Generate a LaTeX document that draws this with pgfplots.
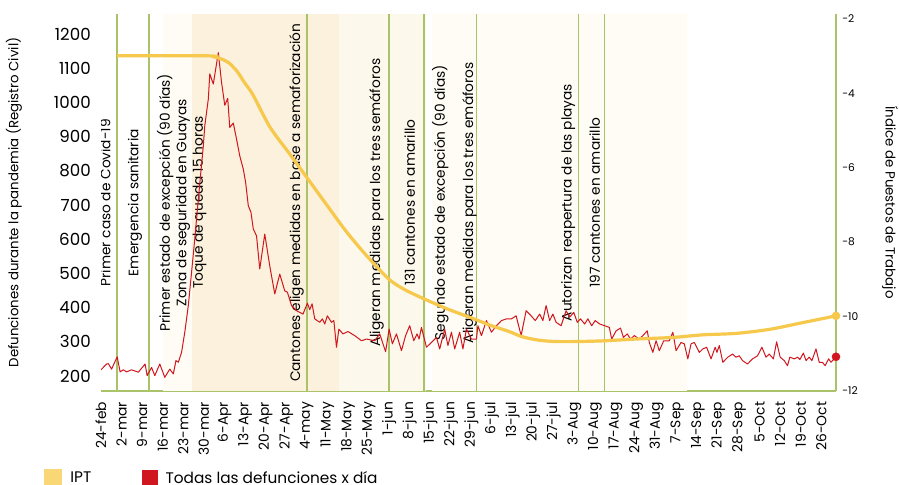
\documentclass[border=0pt]{standalone}
\usepackage{fontspec}
\setmainfont{Poppins}
\usepackage{pgfplots}
\pgfplotsset{compat=1.18}
\definecolor{redl}{RGB}{208,22,30}
\definecolor{ipt}{RGB}{246,200,76}
\definecolor{iptleg}{RGB}{249,214,118}
\definecolor{grn}{RGB}{170,194,104}
\definecolor{shA}{RGB}{254,252,245}
\definecolor{shB}{RGB}{253,248,236}
\definecolor{shC}{RGB}{252,241,220}
\newcommand{\annf}{\fontsize{10.3}{12.4}\selectfont}
\pgfplotstableread{
d v
0 218
1.9 235
2.5 236
3.6 220
5.5 256
6.5 212
7.6 218
8.7 212
10.4 218
12.7 211
15.0 235
15.7 201
17.2 225
18.3 201
20.0 235
21.7 196
23.4 220
24.6 206
25.5 245
26.3 240
27.4 269
28.5 328
29.7 406
30.8 503
31.9 601
33.1 717
34.8 873
35.3 932
36.5 1010
37.0 1084
38.2 1054
39.9 1146
41.0 1059
42.1 992
43.1 1012
43.8 927
45.0 940
46.1 893
47.2 844
48.4 805
49.2 766
50.1 698
51.0 679
51.8 630
52.9 610
54.0 513
55.7 615
57.4 522
59.1 440
60.8 498
62.5 449
63.4 445
64.8 406
66.5 391
68.7 381
70.2 413
71.0 394
71.8 411
72.7 367
74.4 357
75.3 367
76.1 352
77.0 376
78.4 357
79.2 362
80.1 284
80.9 337
82.3 323
84.0 330
86.3 318
88.6 303
90.3 308
93.1 303
94.8 323
96.8 271
98.0 337
99.1 294
100.5 323
102.2 274
103.6 318
105.0 347
106.4 303
107.5 323
108.2 308
109.0 342
110.7 284
112.4 298
114.1 313
115.2 279
116.9 337
118.0 289
119.2 328
120.3 279
122.0 328
123.1 279
124.3 337
126.0 308
127.7 308
128.2 347
129.4 318
131.1 362
132.8 328
134.5 347
136.2 362
137.9 367
139.6 367
141.2 376
142.9 318
144.6 391
146.3 376
147.7 362
149.2 381
150.3 362
151.4 406
152.6 362
153.7 381
154.8 357
156.5 347
158.2 391
159.4 372
160.8 386
162.0 357
163.1 367
164.5 352
165.6 367
166.9 347
168.1 362
169.6 352
171.3 347
172.9 342
173.7 308
175.2 332
176.7 340
177.7 313
179.0 323
180.1 308
181.4 318
183.1 308
184.3 318
185.8 332
186.5 298
187.7 269
188.8 303
189.9 274
191.4 303
193.3 303
194.5 328
195.6 274
197.3 298
198.4 294
199.6 250
200.7 294
201.8 298
203.5 269
204.7 279
206.0 284
207.5 250
208.9 284
209.5 269
210.3 289
211.5 240
213.2 255
214.8 264
216.0 255
217.1 259
218.2 245
219.9 235
221.6 250
223.3 259
224.8 284
226.2 255
227.3 264
228.7 250
229.8 300
231.0 255
232.4 245
233.5 230
234.3 255
235.8 250
236.9 255
237.7 248
238.9 267
239.8 245
240.9 255
241.8 245
243.2 279
244.3 240
245.4 240
246.3 230
247.5 250
248.3 240
250 256
}\deaths
\pgfplotstableread{
d v
5.5 -2.99
35.4 -2.99
38.1 -3.01
40.8 -3.07
43.5 -3.18
46.2 -3.40
48.9 -3.72
51.7 -4.04
57.5 -4.91
64.3 -5.64
71.1 -6.38
77.9 -7.12
83.0 -7.67
88.1 -8.16
93.2 -8.61
98.3 -9.02
103.4 -9.28
109.5 -9.51
118.0 -9.80
126.5 -10.05
132.3 -10.23
139.1 -10.41
143.2 -10.54
148.6 -10.63
154.4 -10.67
162.2 -10.67
171.4 -10.65
182.7 -10.60
194.6 -10.56
204.8 -10.49
216.3 -10.45
227.6 -10.34
238.8 -10.16
250 -9.98
}\ipt
\begin{document}
\begin{tikzpicture}[x=1pt,y=1pt]
\path[use as bounding box] (0,0) rectangle (674.25,363.75);
\begin{axis}[
  at={(75.75pt,70.5pt)}, anchor=south west,
  width=551.25pt, height=282.75pt, scale only axis,
  xmin=0, xmax=250, ymin=156, ymax=1259,
  axis x line*=bottom, axis y line*=left,
  x axis line style={grn, line width=1.1pt, -},
  y axis line style={draw=none},
  major tick length=0pt,
  xtick={0,7,...,245},
  xticklabels={24-feb,2-mar,9-mar,16-mar,23-mar,30-mar,6-Apr,13-Apr,20-Apr,27-Apr,4-may,11-May,18-May,25-May,1-jun,8-jun,15-jun,22-jun,29-jun,6-jul,13-jul,20-jul,27-jul,3-Aug,10-Aug,17-Aug,24-Aug,31-Aug,7-Sep,14-Sep,21-Sep,28-Sep,5-Oct,12-Oct,19-Oct,26-Oct},
  xticklabel style={rotate=90, anchor=east, inner sep=0pt, font=\fontsize{10.4}{12}\selectfont},
  xticklabel shift=8pt,
  ytick={200,300,...,1200},
  yticklabels={200,300,400,500,600,700,800,900,1000,1100,1200},
  yticklabel style={anchor=east, inner sep=0pt, font=\fontsize{12.5}{14}\selectfont},
  yticklabel shift=7.5pt,
  ylabel={Defunciones durante la pandemia (Registro Civil)},
  ylabel style={at={(rel axis cs:-0.1184,0.5)}, anchor=center, inner sep=0pt, font=\fontsize{10}{12}\selectfont},
]
\addplot[fill=shA, draw=none, forget plot] coordinates {(21,1259) (110.5,1259)} \closedcycle;
\addplot[fill=shA, draw=none, forget plot] coordinates {(112.5,1259) (199.4,1259)} \closedcycle;
\addplot[fill=shB, draw=none, forget plot] coordinates {(31,1259) (110.5,1259)} \closedcycle;
\addplot[fill=shC, draw=none, forget plot] coordinates {(31,1259) (81,1259)} \closedcycle;
\foreach \xv in {5.5,16.3,70.0,97.9,109.8,127.8,162.4,171.3}{
  \edef\tmp{\noexpand\addplot[grn, line width=1.1pt, forget plot] coordinates {(\xv,156) (\xv,1259)};}
  \tmp
}
\node[rotate=90, anchor=base, inner sep=0pt, font=\annf] at (axis cs:3.23,707) {Primer caso de Covid-19};
\node[rotate=90, anchor=base, inner sep=0pt, font=\annf] at (axis cs:12.69,707) {Emergencia sanitaria};
\node[rotate=90, anchor=south, inner sep=0pt, align=center, font=\annf] at (axis cs:35.95,707) {Primer estado de excepción (90 días)\\Zona de seguridad en Guayas\\Toque de queda 15 horas};
\node[rotate=90, anchor=base, inner sep=0pt, font=\annf] at (axis cs:67.7,707) {Cantones eligen medidas en base a semaforización};
\node[rotate=90, anchor=base, inner sep=0pt, font=\annf] at (axis cs:94.9,707) {Aligeran medidas para los tres semáforos};
\node[rotate=90, anchor=base, inner sep=0pt, font=\annf] at (axis cs:106.8,707) {131 cantones en amarillo};
\node[rotate=90, anchor=base, inner sep=0pt, font=\annf] at (axis cs:117.0,707) {Segundo estado de excepción (90 días)};
\node[rotate=90, anchor=base, inner sep=0pt, font=\annf] at (axis cs:126.6,707) {Aligeran medidas para los tres emáforos};
\node[rotate=90, anchor=base, inner sep=0pt, font=\annf] at (axis cs:160.1,707) {Autorizan reapertura de las playas};
\node[rotate=90, anchor=base, inner sep=0pt, font=\annf] at (axis cs:169.7,707) {197 cantones en amarillo};
\addplot[redl, line width=0.75pt, line join=round] table[x=d, y=v] {\deaths};
\end{axis}
\begin{axis}[
  at={(75.75pt,70.5pt)}, anchor=south west,
  width=551.25pt, height=282.75pt, scale only axis,
  xmin=0, xmax=250, ymin=-12, ymax=-1.866,
  axis x line=none, axis y line*=right,
  y axis line style={grn, line width=1.1pt, -},
  major tick length=0pt,
  ytick={-12,-10,-8,-6,-4,-2},
  yticklabels={-12,-10,-8,-6,-4,-2},
  yticklabel style={anchor=west, inner sep=0pt, font=\fontsize{8}{10}\selectfont},
  yticklabel shift=4.5pt,
  ylabel={Índice de Puestos de Trabajo},
  ylabel style={at={(rel axis cs:1.0735,0.5)}, anchor=center, rotate=180, inner sep=0pt, font=\fontsize{10}{12}\selectfont},
  legend columns=2,
  legend style={at={(rel axis cs:-0.0776,-0.231)}, anchor=west, draw=none, fill=none, inner sep=0pt,
    font=\fontsize{11.5}{13}\selectfont, column sep=4pt,
    /tikz/every even column/.append style={column sep=36pt}},
  legend cell align=left,
]
\addplot[ipt, line width=2.4pt, smooth, legend image code/.code={\fill[iptleg] (0pt,-5.6pt) rectangle (11.25pt,5.6pt);}] table[x=d, y=v] {\ipt};
\addlegendentry{IPT}
\addlegendimage{legend image code/.code={\fill[redl] (0pt,-5.6pt) rectangle (11.25pt,5.6pt);}}
\addlegendentry{Todas las defunciones x día}
\addplot[ipt, only marks, mark=*, mark size=3pt, forget plot] coordinates {(250,-9.98)};
% last daily-deaths value (256) expressed on this axis so the dot is drawn above the axis line
\addplot[redl, only marks, mark=*, mark size=3pt, forget plot] coordinates {(250,-11.08)};
\end{axis}
\end{tikzpicture}
\end{document}
